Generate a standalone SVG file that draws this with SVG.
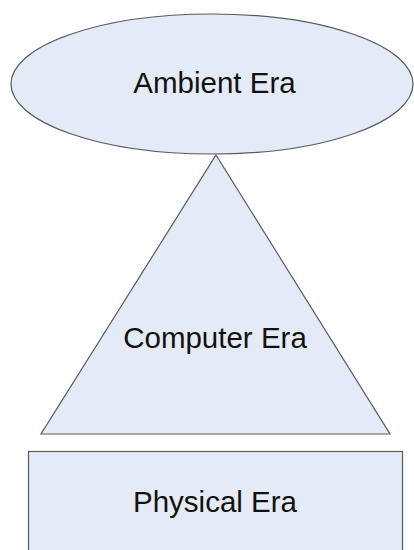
<svg xmlns="http://www.w3.org/2000/svg" width="414" height="550" viewBox="0 0 414 550">
<style>
.s{fill:#E5EBF6;stroke:#5a5a5a;stroke-width:1.2}
.t{font-family:"Liberation Sans",Arial,sans-serif;font-size:29.5px;fill:#111;text-anchor:middle}
</style>
<rect width="414" height="550" fill="#fff"/>
<g id="physical">
<rect class="s" x="28.5" y="451.5" width="374" height="110"/>
<text class="t" x="215" y="512">Physical Era</text>
</g>
<g id="computer">
<polygon class="s" points="216,155 390,434 41,434"/>
<text class="t" x="215" y="348">Computer Era</text>
</g>
<g id="ambient">
<ellipse class="s" cx="212" cy="84" rx="201" ry="70"/>
<text class="t" x="214.5" y="93">Ambient Era</text>
</g>
<g id="connectors"/>
</svg>
